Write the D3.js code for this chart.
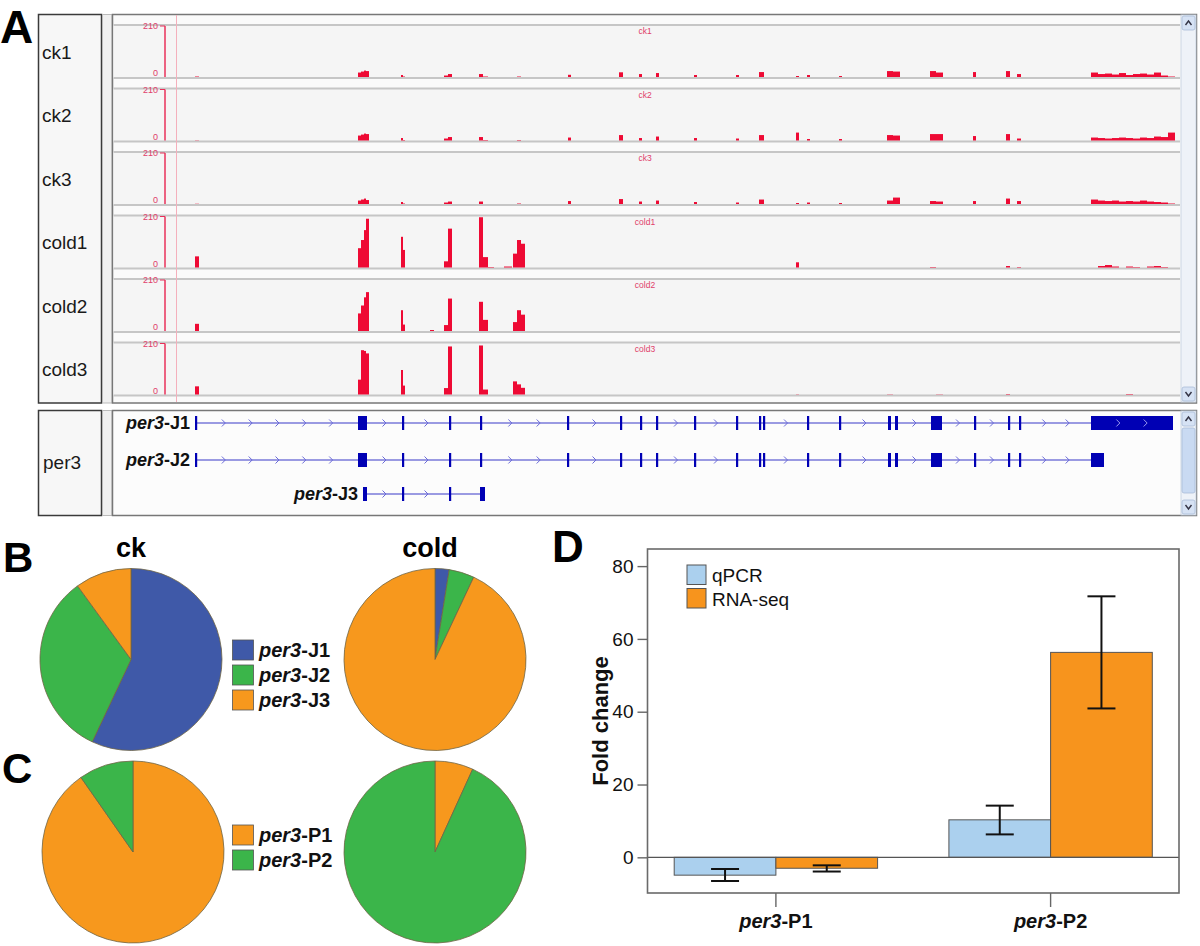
<!DOCTYPE html>
<html><head><meta charset="utf-8">
<script src="https://cdn.jsdelivr.net/npm/d3@7"></script>
<style>
body{margin:0;background:#fff}
svg{display:block}
text{font-family:"Liberation Sans",Arial,Helvetica,sans-serif}
</style>
</head><body>
<svg id="fig" width="1200" height="946"></svg>
<script>
// ---------------- DATA ----------------
// Panel A: coverage tracks (locus units across the browser view)
const viewStart = 112, viewEnd = 1180;
const trackNames = ["ck1","ck2","ck3","cold1","cold2","cold3"];
const covMax = 210;
const covBins = [[195,199],[358,361],[361,364],[364,366],[366,369],[401,403],[403,405],[430,434],[444,448],[448,452],
  [479,483],[483,488],[488,494],[504,512],[513,517],[517,521],[521,525],[568,571],[619,623],[639,642],[656,659],
  [694,697],[736,739],[759,764],[796,799],[807,810],[839,842],[887,893],[893,900],[930,936],[936,943],[973,976],
  [1006,1010],[1017,1021],[1091,1098],[1098,1105],[1105,1112],[1112,1119],[1119,1126],[1126,1133],[1133,1140],
  [1140,1147],[1147,1154],[1154,1161],[1161,1168],[1168,1175]];
const ck1 = [6,22,26,30,28,12,6,0,10,16,16,6,0,0,4,6,4,13,23,16,20,12,12,24,8,12,8,28,26,28,22,24,28,16,22,16,18,14,20,12,16,18,14,22,10,6];
const ck2 = [5,24,28,32,30,14,6,0,12,18,18,6,0,0,4,6,4,16,26,14,20,14,12,26,36,10,10,26,24,30,30,22,30,12,16,14,12,14,16,14,12,16,14,20,18,36];
const ck3 = [5,18,22,26,20,12,6,0,10,14,14,4,0,0,4,6,4,16,24,14,18,12,10,22,8,10,8,18,30,16,14,16,26,16,22,18,16,18,14,16,14,18,14,12,10,6];
const cold1 = [49,82,115,155,201,128,75,4,29,161,207,46,6,8,60,115,100,3,3,3,3,2,2,3,25,3,0,4,4,6,4,0,10,6,4,10,14,8,4,8,6,4,8,10,6,4];
const cold2 = [33,75,107,140,161,88,30,8,28,135,122,49,4,4,40,88,70,2,2,0,2,0,0,2,3,0,0,3,3,3,2,0,3,2,4,2,3,2,3,2,2,4,4,3,2,0];
const cold3 = [37,64,183,180,170,103,40,3,30,198,202,24,3,4,57,45,31,2,2,0,2,3,0,2,5,3,0,5,3,4,5,2,6,3,3,4,3,2,4,6,4,3,4,2,3,2];
const trackValues = [ck1, ck2, ck3, cold1, cold2, cold3];

// Panel A: gene models
const geneTrackName = "per3";
const transcriptNames = ["per3-J1","per3-J2","per3-J3"];
const j1Exons = [[195,197],[358,367],[402,404],[449,451],[480,482],[567,569],[620,622],[640,642],[656,658],[694,696],
  [736,738],[759,761],[763,765],[807,809],[839,841],[888,891],[895,898],[931,942],[974,976],[1008,1010],[1019,1021],[1091,1173]];
const j2Exons = [[195,197],[358,367],[402,404],[449,451],[480,482],[567,569],[620,622],[640,642],[656,658],[694,696],
  [736,738],[759,761],[763,765],[807,809],[839,841],[888,891],[895,898],[931,942],[974,976],[1008,1010],[1019,1021],[1091,1104]];
const j3Exons = [[363,367],[402,404],[449,451],[480,485]];
const transcriptExons = [j1Exons, j2Exons, j3Exons];

// Panel B / C: isoform proportions (%)
const pieConditions = ["ck","cold"];
const pieBLabels = ["per3-J1","per3-J2","per3-J3"];
const pieBck = [57, 33, 10];
const pieBcold = [2.5, 4.5, 93];
const pieCLabels = ["per3-P1","per3-P2"];
const pieCck = [90.3, 9.7];
const pieCcold = [6.8, 93.2];

// Panel D: fold change
const barCategories = ["per3-P1","per3-P2"];
const barSeries = ["qPCR","RNA-seq"];
const qpcrValues = [-4.9, 10.3];
const qpcrErrLow = [-6.5, 6.3];
const qpcrErrHigh = [-3.2, 14.2];
const rnaseqValues = [-3.0, 56.3];
const rnaseqErrLow = [-3.9, 40.9];
const rnaseqErrHigh = [-2.2, 71.7];
const yDomain = [-9.8, 84.7];
const yTicks = [0, 20, 40, 60, 80];

// ---------------- DRAW ----------------
const svg = d3.select("#fig");
const FONT = '"Liberation Sans",Arial,Helvetica,sans-serif';

function richLabel(sel, name) {
  const i = name.indexOf("-");
  sel.append("tspan").attr("font-style","italic").text(name.slice(0, i));
  sel.append("tspan").text(name.slice(i));
  return sel;
}

// Panel letters
[["A",0,43,46],["B",3,572,42],["C",2,783,42],["D",552,562,44]].forEach(([t,x,y,s])=>{
  svg.append("text").attr("x",x).attr("y",y).attr("font-size",s).attr("font-weight","bold").text(t);
});

// ===== Panel A =====
const gA = svg.append("g");
const gx = d3.scaleLinear().domain([viewStart, viewEnd]).range([112, 1180]);

// frames
gA.append("rect").attr("x",38.5).attr("y",14.5).attr("width",63).attr("height",388.5).attr("fill","#f7f7f7").attr("stroke","#3a3a3a").attr("stroke-width",1.5);
gA.append("rect").attr("x",102.5).attr("y",14.5).attr("width",9.5).attr("height",388.5).attr("fill","#f0f0f0").attr("stroke","#bbb").attr("stroke-width",1);
gA.append("rect").attr("x",112.5).attr("y",14.5).attr("width",1084).attr("height",388.5).attr("fill","#fafafa").attr("stroke","#777").attr("stroke-width",1.5);

const trackTop0 = 25, trackPitch = 63.5, trackH = 53;
trackNames.forEach((name, i) => {
  const top = trackTop0 + i * trackPitch, base = top + trackH;
  const y = d3.scaleLinear().domain([0, covMax]).range([base, top + 1]);
  gA.append("rect").attr("x",113.5).attr("y",top).attr("width",1067).attr("height",trackH).attr("fill","#f5f5f5");
  gA.append("line").attr("x1",113.5).attr("x2",1180).attr("y1",top).attr("y2",top).attr("stroke","#c6c6c6").attr("stroke-width",2);
  gA.append("line").attr("x1",113.5).attr("x2",1180).attr("y1",base).attr("y2",base).attr("stroke","#c6c6c6").attr("stroke-width",2);
  const vals = trackValues[i];
  gA.append("g").selectAll("rect")
    .data(covBins.map((b, k) => ({s: b[0], e: b[1], v: vals[k]})).filter(d => d.v > 0))
    .join("rect")
    .attr("x", d => gx(d.s)).attr("width", d => gx(d.e) - gx(d.s))
    .attr("y", d => y(d.v)).attr("height", d => base - 1 - y(d.v))
    .attr("fill", "#ee0a34");
  // data range axis
  gA.append("line").attr("x1",165).attr("x2",165).attr("y1",y(covMax)).attr("y2",base-1).attr("stroke","#e8305a").attr("stroke-width",1.5);
  gA.append("line").attr("x1",160).attr("x2",165).attr("y1",y(covMax)).attr("y2",y(covMax)).attr("stroke","#e8305a");
  gA.append("text").attr("x",158).attr("y",y(covMax)+3).attr("text-anchor","end").attr("font-size",9).attr("fill","#e0406a").text(covMax);
  gA.append("text").attr("x",158).attr("y",base-2).attr("text-anchor","end").attr("font-size",9).attr("fill","#e0406a").text(0);
  gA.append("text").attr("x",645).attr("y",top+9).attr("text-anchor","middle").attr("font-size",8.5).attr("fill","#e0406a").text(name);
  gA.append("text").attr("x",42).attr("y",(top+base)/2+7).attr("font-size",19).attr("fill","#1a1a1a").text(name);
});
// pink marker line
gA.append("line").attr("x1",176.5).attr("x2",176.5).attr("y1",15).attr("y2",402).attr("stroke","#f4b0bc").attr("stroke-width",1);

// scrollbars
function scrollbar(y0, y1, thumb) {
  gA.append("rect").attr("x",1181).attr("y",y0).attr("width",15).attr("height",y1-y0).attr("fill","#eef2f8").attr("stroke","#c4cfdf").attr("stroke-width",0.8);
  [[y0+1, "up"],[y1-15, "down"]].forEach(([yy, dir]) => {
    gA.append("rect").attr("x",1182).attr("y",yy).attr("width",13).attr("height",14).attr("rx",2).attr("fill","#d6e2f4").attr("stroke","#a9bcd8").attr("stroke-width",0.8);
    const cx = 1188.5, cy = yy + 7;
    const p = dir === "up" ? `M${cx-3},${cy+2}L${cx},${cy-2}L${cx+3},${cy+2}` : `M${cx-3},${cy-2}L${cx},${cy+2}L${cx+3},${cy-2}`;
    gA.append("path").attr("d",p).attr("fill","none").attr("stroke","#334").attr("stroke-width",1.4);
  });
  if (thumb) {
    gA.append("rect").attr("x",1182).attr("y",thumb[0]).attr("width",13).attr("height",thumb[1]-thumb[0]).attr("rx",2).attr("fill","#c9daf2").attr("stroke","#a9bcd8").attr("stroke-width",0.8);
  }
}
scrollbar(15, 402, null);

// gene panel
gA.append("rect").attr("x",38.5).attr("y",410.5).attr("width",63).attr("height",105).attr("fill","#f7f7f7").attr("stroke","#3a3a3a").attr("stroke-width",1.5);
gA.append("rect").attr("x",102.5).attr("y",410.5).attr("width",9.5).attr("height",105).attr("fill","#f0f0f0").attr("stroke","#bbb").attr("stroke-width",1);
gA.append("rect").attr("x",112.5).attr("y",410.5).attr("width",1084).attr("height",105).attr("fill","#fcfcfc").attr("stroke","#777").attr("stroke-width",1.5);
gA.append("text").attr("x",43).attr("y",469).attr("font-size",19).attr("fill","#1a1a1a").text(geneTrackName);
scrollbar(411, 515, [428, 493]);

const rowY = [423, 460, 494];
transcriptNames.forEach((name, i) => {
  const ex = transcriptExons[i], yy = rowY[i];
  const x0 = gx(ex[0][0]), x1 = gx(ex[ex.length-1][1]);
  const g = gA.append("g");
  g.append("line").attr("x1",x0).attr("x2",x1).attr("y1",yy).attr("y2",yy).attr("stroke","#3838c8").attr("stroke-width",1.2);
  // chevrons along introns
  for (let k = 0; k < ex.length - 1; k++) {
    const a = gx(ex[k][1]), b = gx(ex[k+1][0]);
    const n = Math.floor((b - a) / 31);
    for (let m = 1; m <= n; m++) {
      const cx = a + (b - a) * m / (n + 1);
      g.append("path").attr("d",`M${cx-2},${yy-3.5}L${cx+1.5},${yy}L${cx-2},${yy+3.5}`).attr("fill","none").attr("stroke","#6a6ad8").attr("stroke-width",1);
    }
  }
  g.selectAll("rect").data(ex).join("rect")
    .attr("x", d => gx(d[0])).attr("width", d => Math.max(2.2, gx(d[1]) - gx(d[0])))
    .attr("y", yy - 7).attr("height", 14).attr("fill","#0000b4");
  // chevrons inside last long exon
  const last = ex[ex.length-1];
  if (gx(last[1]) - gx(last[0]) > 40) {
    const a = gx(last[0]), b = gx(last[1]);
    const n = Math.floor((b - a) / 31);
    for (let m = 1; m <= n; m++) {
      const cx = a + (b - a) * m / (n + 1);
      g.append("path").attr("d",`M${cx-2},${yy-3.5}L${cx+1.5},${yy}L${cx-2},${yy+3.5}`).attr("fill","none").attr("stroke","#9a9af0").attr("stroke-width",1);
    }
  }
  richLabel(g.append("text").attr("x", x0 - 5).attr("y", yy + 6).attr("text-anchor","end")
    .attr("font-size",18).attr("font-weight","bold").attr("fill","#111"), name);
});

// ===== Panels B & C =====
const pieColors = {"per3-J1":"#3f59a8","per3-J2":"#3bb54a","per3-J3":"#f7981d","per3-P1":"#f7981d","per3-P2":"#3bb54a"};
const pieR = 91;
const arc = d3.arc().innerRadius(0).outerRadius(pieR);
function drawPie(cx, cy, labels, values) {
  const pie = d3.pie().sort(null).value(d => d.v);
  const data = pie(labels.map((l, i) => ({l, v: values[i]})));
  svg.append("g").attr("transform",`translate(${cx},${cy})`)
    .selectAll("path").data(data).join("path")
    .attr("d", arc).attr("fill", d => pieColors[d.data.l])
    .attr("stroke","#6f6445").attr("stroke-width",0.8);
}
drawPie(131, 659.5, pieBLabels, pieBck);
drawPie(435, 659.5, pieBLabels, pieBcold);
drawPie(133, 852, pieCLabels, pieCck);
drawPie(435, 852, pieCLabels, pieCcold);

svg.append("text").attr("x",131).attr("y",557).attr("text-anchor","middle").attr("font-size",27).attr("font-weight","bold").text(pieConditions[0]);
svg.append("text").attr("x",430).attr("y",557).attr("text-anchor","middle").attr("font-size",27).attr("font-weight","bold").text(pieConditions[1]);

function pieLegend(labels, y0) {
  labels.forEach((l, i) => {
    const yy = y0 + i * 25;
    svg.append("rect").attr("x",232.5).attr("y",yy).attr("width",21).attr("height",20).attr("fill",pieColors[l]).attr("stroke","#555").attr("stroke-width",0.8);
    richLabel(svg.append("text").attr("x",259).attr("y",yy+17).attr("font-size",20).attr("font-weight","bold").attr("fill","#111"), l);
  });
}
pieLegend(pieBLabels, 640);
pieLegend(pieCLabels, 825);

// ===== Panel D =====
const L = 647.5, R = 1179, T = 549, B = 893;
const yD = d3.scaleLinear().domain(yDomain).range([B, T]);
const xD = d3.scaleBand().domain(barCategories).range([L, R]).paddingInner(0.2596).paddingOuter(0.0972);
const xS = d3.scaleBand().domain(barSeries).range([0, xD.bandwidth()]);
const seriesColors = {"qPCR":"#abd0ee","RNA-seq":"#f7941d"};
const gD = svg.append("g");

const barData = [];
barCategories.forEach((c, i) => {
  barData.push({c, s:"qPCR", v:qpcrValues[i], lo:qpcrErrLow[i], hi:qpcrErrHigh[i]});
  barData.push({c, s:"RNA-seq", v:rnaseqValues[i], lo:rnaseqErrLow[i], hi:rnaseqErrHigh[i]});
});
gD.selectAll("rect.bar").data(barData).join("rect").attr("class","bar")
  .attr("x", d => xD(d.c) + xS(d.s)).attr("width", xS.bandwidth())
  .attr("y", d => Math.min(yD(d.v), yD(0))).attr("height", d => Math.abs(yD(d.v) - yD(0)))
  .attr("fill", d => seriesColors[d.s]).attr("stroke","#555").attr("stroke-width",1);

// zero line
gD.append("line").attr("x1",L).attr("x2",R).attr("y1",yD(0)).attr("y2",yD(0)).attr("stroke","#555").attr("stroke-width",1.2);

// error bars
const eb = gD.selectAll("g.eb").data(barData).join("g").attr("class","eb")
  .attr("transform", d => `translate(${xD(d.c) + xS(d.s) + xS.bandwidth()/2},0)`);
eb.append("line").attr("y1", d => yD(d.lo)).attr("y2", d => yD(d.hi)).attr("stroke","#111").attr("stroke-width",2);
eb.append("line").attr("x1",-14).attr("x2",14).attr("y1", d => yD(d.lo)).attr("y2", d => yD(d.lo)).attr("stroke","#111").attr("stroke-width",2);
eb.append("line").attr("x1",-14).attr("x2",14).attr("y1", d => yD(d.hi)).attr("y2", d => yD(d.hi)).attr("stroke","#111").attr("stroke-width",2);

// frame
gD.append("rect").attr("x",L).attr("y",T).attr("width",R-L).attr("height",B-T).attr("fill","none").attr("stroke","#6a6a6a").attr("stroke-width",1.6);

// y axis
const yAxis = gD.append("g").attr("transform",`translate(${L},0)`)
  .call(d3.axisLeft(yD).tickValues(yTicks).tickSize(10).tickPadding(4));
yAxis.select(".domain").remove();
yAxis.selectAll(".tick line").attr("stroke","#666").attr("stroke-width",1.4);
yAxis.selectAll(".tick text").attr("font-size",19).attr("font-family",FONT).attr("fill","#111");

// x axis
barCategories.forEach(c => {
  const cx = xD(c) + xD.bandwidth()/2;
  gD.append("line").attr("x1",cx).attr("x2",cx).attr("y1",B).attr("y2",B+14).attr("stroke","#666").attr("stroke-width",1.4);
  richLabel(gD.append("text").attr("x",cx).attr("y",928).attr("text-anchor","middle").attr("font-size",20).attr("font-weight","bold").attr("fill","#111"), c);
});

// y label
gD.append("text").attr("transform","translate(608,721) rotate(-90)").attr("text-anchor","middle")
  .attr("font-size",22).attr("font-weight","bold").attr("fill","#111").text("Fold change");

// legend
barSeries.forEach((s, i) => {
  const yy = 565 + i * 23.5;
  gD.append("rect").attr("x",687).attr("y",yy).attr("width",19).attr("height",19.5).attr("fill",seriesColors[s]).attr("stroke","#555").attr("stroke-width",1);
  gD.append("text").attr("x",712).attr("y",yy+17).attr("font-size",19).attr("fill","#111").text(s);
});
</script>
</body></html>
